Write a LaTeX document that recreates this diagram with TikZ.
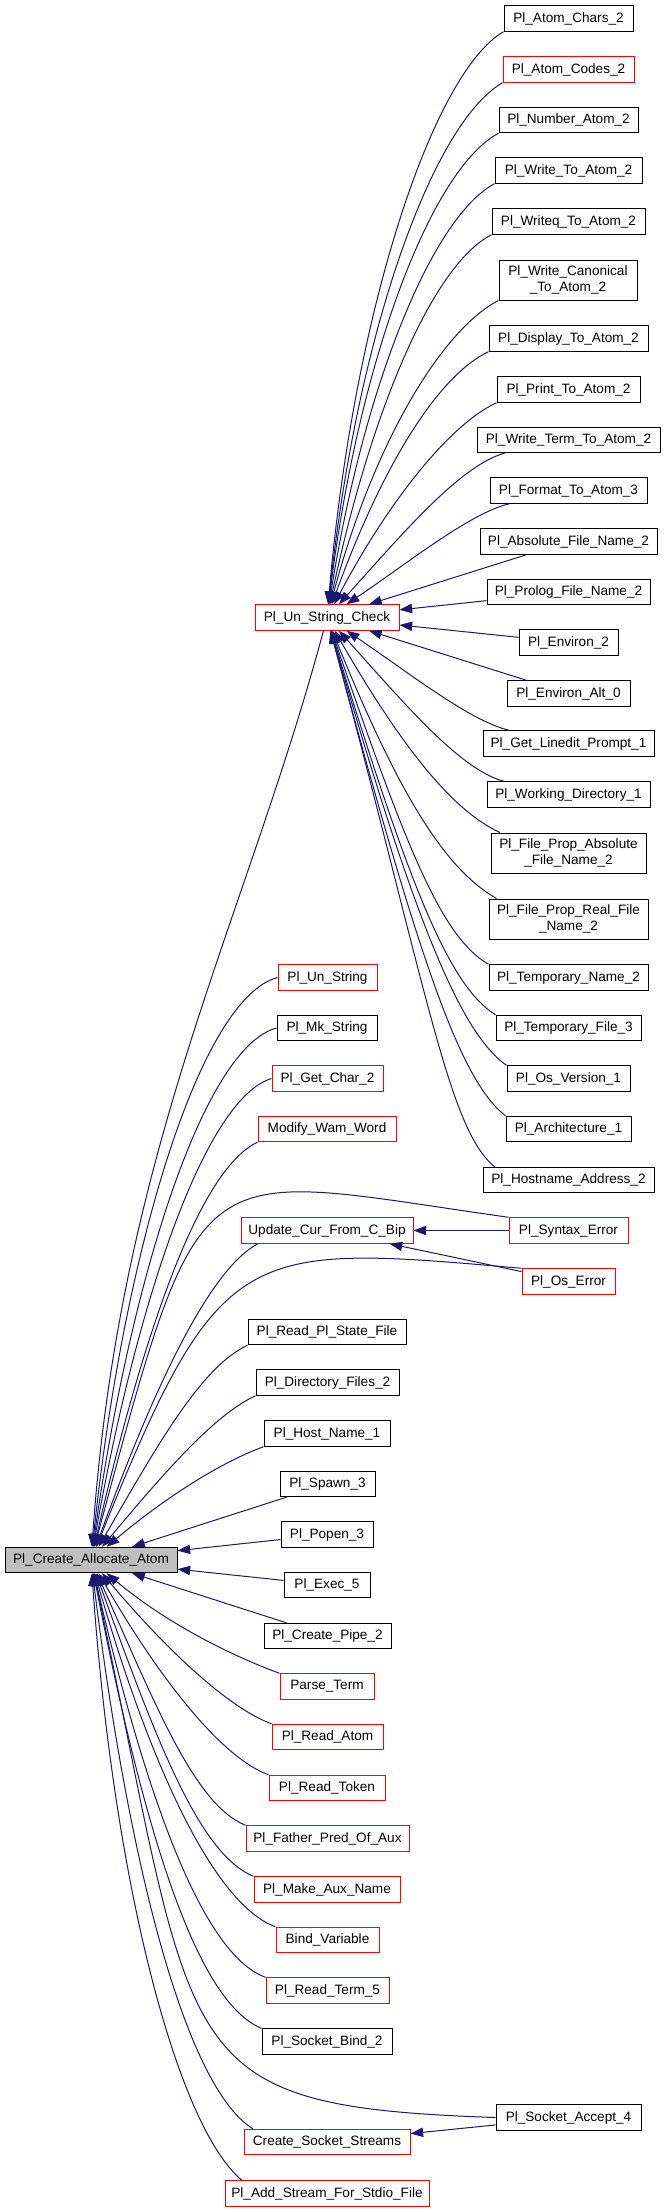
\documentclass[tikz,border=0pt]{standalone}
\usepackage{fontspec}
\setmainfont{Liberation Sans}
\usetikzlibrary{arrows.meta}
\definecolor{edgec}{HTML}{191970}
\definecolor{redb}{HTML}{FF0000}
\definecolor{calfill}{HTML}{BFBFBF}
% single-line box: style, name, left, right, centre-y, text (pixel units)
\newcommand{\snode}[6]{\node[#1, minimum width={(#4-#3)*0.75pt}, minimum height=19.1pt] (#2) at ({(#3+#4)/2},#5) {#6};}
% box by corners: style, name, left, top, right, bottom, text
\newcommand{\bnode}[7]{\node[#1, minimum width={(#5-#3)*0.75pt}, minimum height={(#6-#4)*0.75pt}] (#2) at ({(#3+#5)/2},{(#4+#6)/2}) {#7};}
\begin{document}
\begin{tikzpicture}[x=0.75pt, y=-0.75pt,
  every node/.style={font=\fontsize{10.2}{11.5}\selectfont, inner sep=0pt, line width=0.75pt, align=center},
  bk/.style={draw=black, fill=white},
  rd/.style={draw=redb, fill=white},
  gr/.style={draw=black, fill=calfill},
  e/.style={draw=edgec, line width=0.75pt, -{Triangle[length=9.5pt,width=7pt]}}]
\path[use as bounding box, fill=white] (0,0) rectangle (665,2212);

% ---- right column
\snode{bk}{achars}{504}{633}{18.5}{Pl\_Atom\_Chars\_2}
\snode{rd}{acodes}{503}{634}{69.5}{Pl\_Atom\_Codes\_2}
\snode{bk}{numatom}{499}{638}{120}{Pl\_Number\_Atom\_2}
\snode{bk}{wtoatom}{495}{642}{170.5}{Pl\_Write\_To\_Atom\_2}
\snode{bk}{wqtoatom}{492}{645}{221.5}{Pl\_Writeq\_To\_Atom\_2}
\bnode{bk}{wcanon}{499}{260}{637}{300}{Pl\_Write\_Canonical\\\_To\_Atom\_2}
\snode{bk}{display}{489}{648}{338.5}{Pl\_Display\_To\_Atom\_2}
\snode{bk}{print}{497}{640}{389.5}{Pl\_Print\_To\_Atom\_2}
\snode{bk}{wterm}{477}{660}{440}{Pl\_Write\_Term\_To\_Atom\_2}
\snode{bk}{format}{490}{647}{490.5}{Pl\_Format\_To\_Atom\_3}
\snode{bk}{absfile}{480}{657}{541.5}{Pl\_Absolute\_File\_Name\_2}
\snode{bk}{prolog}{487}{650}{592}{Pl\_Prolog\_File\_Name\_2}
\snode{bk}{environ}{519}{618}{642.5}{Pl\_Environ\_2}
\snode{bk}{environalt}{507}{630}{693.5}{Pl\_Environ\_Alt\_0}
\snode{bk}{linedit}{483}{654}{743.5}{Pl\_Get\_Linedit\_Prompt\_1}
\snode{bk}{workdir}{487}{650}{794.5}{Pl\_Working\_Directory\_1}
\bnode{bk}{fpabs}{491}{833}{646}{873}{Pl\_File\_Prop\_Absolute\\\_File\_Name\_2}
\bnode{bk}{fpreal}{489}{899}{648}{939}{Pl\_File\_Prop\_Real\_File\\\_Name\_2}
\snode{bk}{tmpname}{489}{648}{977.5}{Pl\_Temporary\_Name\_2}
\snode{bk}{tmpfile}{496}{641}{1028}{Pl\_Temporary\_File\_3}
\snode{bk}{osver}{507}{630}{1078.5}{Pl\_Os\_Version\_1}
\snode{bk}{arch}{506}{631}{1129}{Pl\_Architecture\_1}
\snode{bk}{hostaddr}{483}{654}{1180}{Pl\_Hostname\_Address\_2}
\snode{rd}{syntax}{509}{628}{1230.5}{Pl\_Syntax\_Error}
\snode{rd}{oserr}{522}{615}{1281.5}{Pl\_Os\_Error}
\snode{bk}{sockacc}{496}{641}{2117.5}{Pl\_Socket\_Accept\_4}

% ---- middle column
\snode{rd}{usc}{255}{399}{617.5}{Pl\_Un\_String\_Check}
\snode{rd}{unstr}{278}{377}{977.5}{Pl\_Un\_String}
\snode{bk}{mkstr}{277}{377}{1028}{Pl\_Mk\_String}
\snode{rd}{getchar}{272}{383}{1078.5}{Pl\_Get\_Char\_2}
\snode{rd}{modwam}{258}{396}{1129}{Modify\_Wam\_Word}
\snode{rd}{updcur}{241}{413}{1230.5}{Update\_Cur\_From\_C\_Bip}
\snode{bk}{readstate}{248}{406}{1332}{Pl\_Read\_Pl\_State\_File}
\snode{bk}{dirfiles}{256}{399}{1382.5}{Pl\_Directory\_Files\_2}
\snode{bk}{hostname}{264}{390}{1433.5}{Pl\_Host\_Name\_1}
\snode{bk}{spawn}{280}{375}{1484}{Pl\_Spawn\_3}
\snode{bk}{popen}{281}{373}{1534.5}{Pl\_Popen\_3}
\snode{bk}{exec}{284}{370}{1585}{Pl\_Exec\_5}
\snode{bk}{pipe}{264}{391}{1636}{Pl\_Create\_Pipe\_2}
\snode{rd}{parse}{280}{374}{1686.5}{Parse\_Term}
\snode{rd}{readatom}{272}{383}{1737}{Pl\_Read\_Atom}
\snode{rd}{readtoken}{269}{385}{1788}{Pl\_Read\_Token}
\snode{rd}{father}{246}{409}{1838.5}{Pl\_Father\_Pred\_Of\_Aux}
\snode{rd}{makeaux}{254}{400}{1889.5}{Pl\_Make\_Aux\_Name}
\snode{rd}{bindvar}{276}{379}{1940}{Bind\_Variable}
\snode{rd}{readterm}{266}{389}{1990.5}{Pl\_Read\_Term\_5}
\snode{bk}{sockbind}{262}{392}{2041.5}{Pl\_Socket\_Bind\_2}
\snode{rd}{cssock}{244}{410}{2142}{Create\_Socket\_Streams}
\snode{rd}{addstream}{225}{429}{2193.5}{Pl\_Add\_Stream\_For\_Stdio\_File}

% ---- left
\snode{gr}{cal}{5}{177}{1560}{Pl\_Create\_Allocate\_Atom}

% ---- edges into Pl_Un_String_Check
\draw[e] (achars.south west) to[out=210, in=85, out distance=60pt, in distance=225pt] (usc);
\draw[e] (acodes.south west) to[out=210, in=84, out distance=60pt, in distance=206pt] (usc);
\draw[e] (numatom.south west) to[out=208, in=83, out distance=56pt, in distance=188pt] (usc);
\draw[e] (wtoatom.south west) to[out=208, in=81, out distance=52pt, in distance=169pt] (usc);
\draw[e] (wqtoatom.south west) to[out=207, in=78, out distance=49pt, in distance=150pt] (usc);
\draw[e] (wcanon.south west) to[out=207, in=75, out distance=45pt, in distance=131pt] (usc);
\draw[e] (display.south west) to[out=205, in=70, out distance=41pt, in distance=112pt] (usc);
\draw[e] (print.south west) to[out=205, in=62, out distance=38pt, in distance=90pt] (usc);
\draw[e] ([xshift=21pt]wterm.south west) to[out=195, in=48, out distance=34pt, in distance=71pt] (usc);
\draw[e] ([xshift=15pt]format.south west) to[out=193, in=34, out distance=30pt, in distance=56pt] (usc);
\draw[e] (absfile) -- (usc);
\draw[e] (prolog) -- (usc);
\draw[e] (environ) -- (usc);
\draw[e] (environalt) -- (usc);
\draw[e] ([xshift=20pt]linedit.north west) to[out=167, in=-34, out distance=30pt, in distance=56pt] (usc);
\draw[e] ([xshift=13pt]workdir.north west) to[out=165, in=-48, out distance=34pt, in distance=75pt] (usc);
\draw[e] ([xshift=7pt]fpabs.north west) to[out=155, in=-60, out distance=38pt, in distance=105pt] (usc);
\draw[e] ([xshift=6pt]fpreal.north west) to[out=150, in=-68, out distance=41pt, in distance=142pt] (usc);
\draw[e] (tmpname.north west) to[out=150, in=-71, out distance=41pt, in distance=172pt] (usc);
\draw[e] (tmpfile.north west) to[out=148, in=-73, out distance=41pt, in distance=202pt] (usc);
\draw[e] (osver.north west) to[out=145, in=-74, out distance=41pt, in distance=232pt] (usc);
\draw[e] (arch.north west) to[out=142, in=-75, out distance=43pt, in distance=259pt] (usc);
\draw[e] ([xshift=9pt]hostaddr.north west) to[out=140, in=-75, out distance=45pt, in distance=285pt] (usc);

% ---- edges into Update_Cur_From_C_Bip / Create_Socket_Streams
\draw[e] (syntax) -- (updcur);
\draw[e] (oserr) -- (updcur);
\draw[e] (sockacc) -- (cssock);

% ---- edges into Pl_Create_Allocate_Atom
\draw[e] (usc) to[out=-105, in=86, out distance=225pt, in distance=300pt] (cal);
\draw[e] (unstr.west) to[out=195, in=84, out distance=60pt, in distance=225pt] (cal);
\draw[e] (mkstr.west) to[out=195, in=82, out distance=56pt, in distance=206pt] (cal);
\draw[e] (getchar.west) to[out=197, in=80, out distance=52pt, in distance=188pt] (cal);
\draw[e] (modwam.south west) to[out=205, in=77, out distance=49pt, in distance=161pt] (cal);
\draw[e] (syntax.north west) to[out=172, in=75, out distance=240pt, in distance=315pt] (cal);
\draw[e] ([xshift=13pt]updcur.south west) to[out=208, in=70, out distance=41pt, in distance=128pt] (cal);
\draw[e] (oserr.north west) to[out=175, in=68, out distance=210pt, in distance=248pt] (cal);
\draw[e] (readstate.south west) to[out=205, in=60, out distance=38pt, in distance=90pt] (cal);
\draw[e] (dirfiles.south west) to[out=205, in=50, out distance=34pt, in distance=75pt] (cal);
\draw[e] (hostname.south west) to[out=200, in=40, out distance=30pt, in distance=64pt] (cal);
\draw[e] (spawn) -- (cal);
\draw[e] (popen) -- (cal);
\draw[e] (exec) -- (cal);
\draw[e] (pipe) -- (cal);
\draw[e] (parse.north west) to[out=160, in=-40, out distance=30pt, in distance=64pt] (cal);
\draw[e] (readatom.north west) to[out=160, in=-50, out distance=34pt, in distance=75pt] (cal);
\draw[e] (readtoken.north west) to[out=160, in=-60, out distance=38pt, in distance=90pt] (cal);
\draw[e] (father.north west) to[out=158, in=-66, out distance=41pt, in distance=109pt] (cal);
\draw[e] (makeaux.north west) to[out=158, in=-70, out distance=45pt, in distance=128pt] (cal);
\draw[e] (bindvar.north west) to[out=160, in=-74, out distance=49pt, in distance=150pt] (cal);
\draw[e] (readterm.north west) to[out=160, in=-77, out distance=52pt, in distance=165pt] (cal);
\draw[e] (sockbind.north west) to[out=158, in=-79, out distance=56pt, in distance=180pt] (cal);
\draw[e] (sockacc.west) to[out=178, in=-78, out distance=248pt, in distance=375pt] (cal);
\draw[e] ([xshift=7pt]cssock.north west) to[out=148, in=-83, out distance=60pt, in distance=218pt] (cal);
\draw[e] ([xshift=13pt]addstream.north west) to[out=140, in=-86, out distance=64pt, in distance=232pt] (cal);
\end{tikzpicture}
\end{document}
